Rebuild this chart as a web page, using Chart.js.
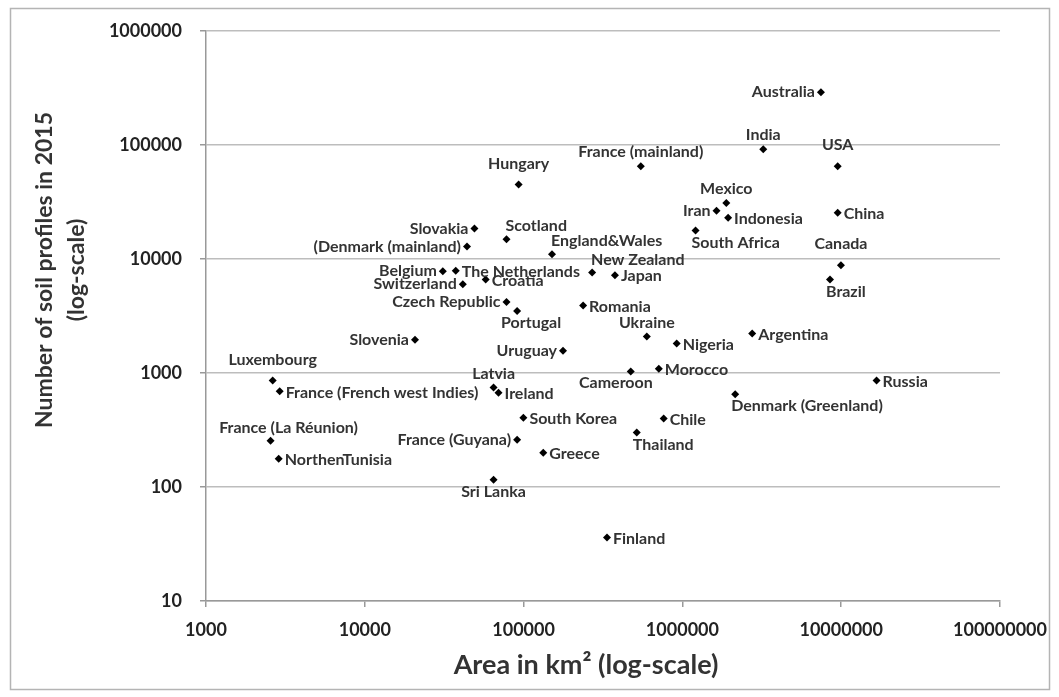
<!doctype html>
<html lang="en">
<head>
<meta charset="UTF-8">
<title>Soil profiles vs area</title>
<script src="https://cdn.jsdelivr.net/npm/chart.js"></script>
<style>
  body { margin: 0; background: #ffffff; }
  #wrap { position: relative; width: 1059px; height: 697px; }
</style>
</head>
<body>
<div id="wrap"><canvas id="soil-chart" width="1059" height="697"></canvas></div>
<script>
  // Data
  const countries = [
    'Australia', 'India', 'USA', 'France (mainland)', 'Hungary', 'Mexico', 'Iran', 'Indonesia',
    'China', 'South Africa', 'Canada', 'Brazil', 'Slovakia', 'Scotland', '(Denmark (mainland)',
    'England&Wales', 'New Zealand', 'Japan', 'Belgium', 'The Netherlands', 'Switzerland', 'Croatia',
    'Czech Republic', 'Portugal', 'Romania', 'Slovenia', 'Uruguay', 'Ukraine', 'Nigeria', 'Argentina',
    'Luxembourg', 'France (French west Indies)', 'Latvia', 'Ireland', 'Cameroon', 'Morocco', 'Russia',
    'Denmark (Greenland)', 'South Korea', 'Chile', 'France (La Réunion)', 'France (Guyana)', 'Thailand',
    'Greece', 'NorthenTunisia', 'Sri Lanka', 'Finland'
  ];
  const areaKm2 = [
    7450000, 3230000, 9500000, 547000, 93000, 1890000, 1640000, 1940000,
    9500000, 1210000, 9960000, 8500000, 49000, 78000, 44000,
    151000, 270000, 376000, 31000, 37400, 41400, 57700,
    78000, 91000, 237000, 20700, 177000, 597000, 920000, 2750000,
    2630, 2910, 64700, 69500, 473000, 710000, 16700000,
    2150000, 99700, 762000, 2550, 91000, 516000,
    133000, 2870, 64700, 335000
  ];
  const soilProfiles = [
    290000, 92000, 65000, 65000, 45000, 31000, 26500, 23000,
    25500, 17800, 8800, 6600, 18500, 14900, 12900,
    11000, 7600, 7200, 7800, 7900, 6000, 6600,
    4200, 3500, 3900, 1960, 1570, 2090, 1810, 2220,
    860, 690, 745, 670, 1030, 1090, 860,
    650, 405, 398, 255, 260, 300,
    200, 177, 116, 36
  ];
  // where each label sits next to its point
  const labelPlace = [
    'l', 't', 'T', 't', 'T', 't', 'l', 'r',
    'r', 'br', 'T', 'br', 'l', 'tr', 'l',
    'tr', 'tr', 'r', 'l', 'r', 'l', 'r',
    'l', 'bR', 'r', 'l', 'l', 't', 'r', 'r',
    'T', 'r', 't', 'r', 'bl', 'r', 'r',
    'br', 'r', 'r', 'tR', 'l', 'br',
    'r', 'r', 'b', 'r'
  ];
  const xTicks = [1000, 10000, 100000, 1000000, 10000000, 100000000];
  const yTicks = [10, 100, 1000, 10000, 100000, 1000000];
  const xTitle = 'Area in km² (log-scale)';
  const yTitle = ['Number of soil profiles in 2015', '(log-scale)'];

  const points = areaKm2.map((a, i) => ({ x: a, y: soilProfiles[i] }));

  const placeOffsets = {
    r:  { dx: 6,   dy: 1,   align: 'left' },
    l:  { dx: -6,  dy: 0,   align: 'right' },
    t:  { dx: 0,   dy: -14, align: 'center' },
    T:  { dx: 0,   dy: -21, align: 'center' },
    tR: { dx: 18,  dy: -13, align: 'center' },
    tr: { dx: -1,  dy: -13, align: 'left' },
    b:  { dx: 0,   dy: 12,  align: 'center' },
    bR: { dx: 14,  dy: 12,  align: 'center' },
    br: { dx: -4,  dy: 12,  align: 'left' },
    bl: { dx: 22,  dy: 11,  align: 'right' }
  };

  // draw the country names beside the markers
  const pointLabels = {
    id: 'pointLabels',
    afterDatasetsDraw(chart) {
      const ctx = chart.ctx;
      const meta = chart.getDatasetMeta(0);
      ctx.save();
      ctx.font = 'bold 16px Lato';
      ctx.fillStyle = '#333333';
      ctx.textBaseline = 'middle';
      meta.data.forEach((el, i) => {
        const p = placeOffsets[labelPlace[i]];
        ctx.textAlign = p.align;
        ctx.fillText(countries[i], el.x + p.dx, el.y + p.dy);
      });
      ctx.restore();
    }
  };

  // frame round the figure and the two axis titles
  const frameAndTitles = {
    id: 'frameAndTitles',
    beforeDraw(chart) {
      const ctx = chart.ctx;
      ctx.save();
      ctx.fillStyle = '#ffffff';
      ctx.fillRect(0, 0, chart.width, chart.height);
      ctx.strokeStyle = '#b4b4b4';
      ctx.lineWidth = 1.5;
      ctx.strokeRect(10.5, 8.5, 1039, 681);
      ctx.restore();
    },
    afterDraw(chart) {
      const ctx = chart.ctx;
      const area = chart.chartArea;
      ctx.save();
      ctx.fillStyle = '#333333';
      ctx.textAlign = 'center';
      ctx.textBaseline = 'middle';
      ctx.font = 'bold 27px Lato';
      ctx.fillText(xTitle, (area.left + area.right) / 2 - 17, 665);
      ctx.translate(0, 270);
      ctx.rotate(-Math.PI / 2);
      ctx.font = 'bold 23px Lato';
      ctx.fillText(yTitle[0], 0, 45);
      ctx.fillText(yTitle[1], 0, 77);
      ctx.restore();
    }
  };

  const ctx = document.getElementById('soil-chart').getContext('2d');
  new Chart(ctx, {
    type: 'scatter',
    data: {
      datasets: [{
        data: points,
        pointStyle: 'rectRot',
        pointRadius: 4,
        pointHoverRadius: 4,
        backgroundColor: '#000000',
        borderColor: '#000000',
        borderWidth: 0
      }]
    },
    options: {
      responsive: false,
      animation: false,
      layout: { padding: { top: 31, right: 57, bottom: 0, left: 0 } },
      plugins: {
        legend: { display: false },
        tooltip: { enabled: false }
      },
      scales: {
        x: {
          type: 'logarithmic',
          min: 1000,
          max: 100000000,
          afterBuildTicks: axis => { axis.ticks = xTicks.map(v => ({ value: v })); },
          afterFit: axis => { axis.height = 96; },
          ticks: {
            callback: v => String(v),
            font: { family: 'Lato', size: 18, weight: 'bold' },
            color: '#222222',
            padding: 12,
            maxRotation: 0
          },
          grid: { drawOnChartArea: false, drawTicks: true, tickLength: 6, color: '#999999', lineWidth: 1.5 },
          border: { color: '#999999', width: 1.5 }
        },
        y: {
          type: 'logarithmic',
          min: 10,
          max: 1000000,
          afterBuildTicks: axis => { axis.ticks = yTicks.map(v => ({ value: v })); },
          afterFit: axis => { axis.width = 206; },
          ticks: {
            callback: v => String(v),
            font: { family: 'Lato', size: 18, weight: 'bold' },
            color: '#222222',
            padding: 18
          },
          grid: { color: '#bdbdbd', lineWidth: 1.5, tickLength: 6, tickColor: '#999999' },
          border: { color: '#999999', width: 1.5 }
        }
      }
    },
    plugins: [frameAndTitles, pointLabels]
  });
</script>
</body>
</html>
